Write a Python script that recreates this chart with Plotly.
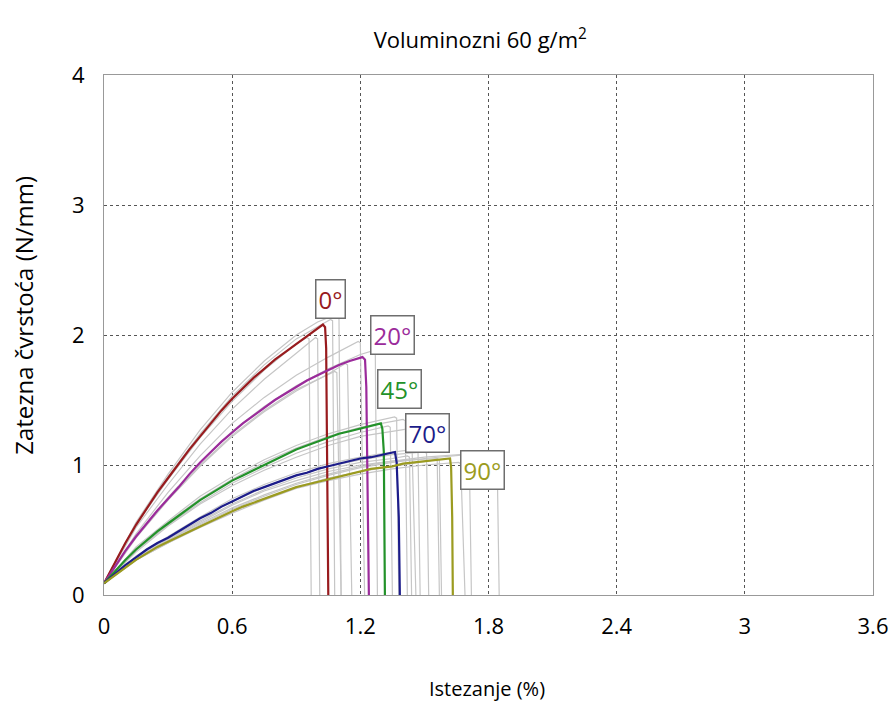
import plotly.graph_objects as go

# mean curves: strain (%) and tensile strength (N/mm)
x_0 = [0, 0.05, 0.1, 0.15, 0.2, 0.25, 0.3, 0.35, 0.4, 0.45, 0.5, 0.55, 0.6, 0.65,
       0.7, 0.75, 0.8, 0.85, 0.9, 0.95, 1.0, 1.025, 1.035, 1.04, 1.05]
y_0 = [0.09, 0.25, 0.40, 0.54, 0.67, 0.79, 0.90, 1.01, 1.12, 1.22, 1.32, 1.42, 1.51, 1.59,
       1.67, 1.74, 1.81, 1.87, 1.93, 1.99, 2.05, 2.08, 2.06, 1.90, 0]

x_20 = [0, 0.05, 0.1, 0.15, 0.2, 0.25, 0.3, 0.35, 0.4, 0.45, 0.5, 0.55, 0.6, 0.65, 0.7,
        0.75, 0.8, 0.85, 0.9, 0.95, 1.0, 1.05, 1.1, 1.15, 1.21, 1.222, 1.228, 1.24]
y_20 = [0.09, 0.22, 0.34, 0.45, 0.55, 0.65, 0.74, 0.83, 0.93, 1.02, 1.10, 1.18, 1.25, 1.32, 1.38,
        1.44, 1.50, 1.55, 1.60, 1.65, 1.69, 1.73, 1.77, 1.80, 1.83, 1.81, 1.60, 0]

x_45 = [0, 0.05, 0.1, 0.15, 0.2, 0.25, 0.3, 0.35, 0.4, 0.45, 0.5, 0.55, 0.6, 0.65, 0.7,
        0.75, 0.8, 0.85, 0.9, 0.95, 1.0, 1.05, 1.1, 1.15, 1.2, 1.25, 1.296, 1.303, 1.31, 1.315]
y_45 = [0.09, 0.18, 0.27, 0.35, 0.42, 0.49, 0.55, 0.61, 0.67, 0.73, 0.78, 0.83, 0.88, 0.92, 0.96,
        1.00, 1.04, 1.08, 1.12, 1.15, 1.18, 1.21, 1.24, 1.26, 1.28, 1.30, 1.32, 1.28, 1.10, 0]

x_70 = [0, 0.05, 0.1, 0.15, 0.2, 0.25, 0.3, 0.35, 0.4, 0.45, 0.5, 0.55, 0.6, 0.65, 0.7,
        0.75, 0.8, 0.85, 0.9, 0.95, 1.0, 1.05, 1.1, 1.15, 1.2, 1.25, 1.3, 1.362, 1.37, 1.38, 1.385]
y_70 = [0.09, 0.16, 0.23, 0.29, 0.35, 0.40, 0.44, 0.49, 0.54, 0.59, 0.63, 0.68, 0.72, 0.76, 0.80,
        0.83, 0.86, 0.89, 0.92, 0.94, 0.97, 0.99, 1.01, 1.03, 1.05, 1.06, 1.08, 1.10, 1.02, 0.60, 0]

x_90 = [0, 0.05, 0.1, 0.15, 0.2, 0.25, 0.3, 0.35, 0.4, 0.45, 0.5, 0.55, 0.6, 0.65, 0.7,
        0.75, 0.8, 0.85, 0.9, 0.95, 1.0, 1.05, 1.1, 1.15, 1.2, 1.25, 1.3, 1.35, 1.4, 1.45,
        1.5, 1.55, 1.62, 1.625, 1.63, 1.633]
y_90 = [0.09, 0.15, 0.21, 0.27, 0.32, 0.37, 0.41, 0.45, 0.49, 0.53, 0.57, 0.61, 0.645, 0.68, 0.71,
        0.74, 0.77, 0.80, 0.83, 0.85, 0.87, 0.89, 0.91, 0.93, 0.95, 0.97, 0.98, 0.99, 1.01, 1.02,
        1.03, 1.04, 1.05, 0.98, 0.60, 0]

# individual specimens (grey)
rep_x_0 = [[0, 0.15, 0.3, 0.45, 0.6, 0.75, 0.9, 1.0, 1.09, 1.10, 1.11],
           [0, 0.15, 0.3, 0.45, 0.6, 0.75, 0.9, 1.0, 1.06, 1.07, 1.08],
           [0, 0.15, 0.3, 0.45, 0.6, 0.75, 0.9, 0.99, 1.00, 1.01],
           [0, 0.15, 0.3, 0.45, 0.6, 0.75, 0.9, 0.95, 0.96, 0.97]]
rep_y_0 = [[0.09, 0.56, 0.93, 1.27, 1.56, 1.80, 2.00, 2.10, 2.16, 2.15, 0],
           [0.09, 0.55, 0.91, 1.24, 1.53, 1.77, 1.97, 2.06, 2.12, 2.11, 0],
           [0.09, 0.52, 0.85, 1.16, 1.43, 1.66, 1.86, 1.98, 1.97, 0],
           [0.09, 0.54, 0.89, 1.21, 1.49, 1.73, 1.93, 1.98, 1.97, 0]]

rep_x_20 = [[0, 0.15, 0.3, 0.45, 0.6, 0.75, 0.9, 1.05, 1.19, 1.20, 1.22],
            [0, 0.15, 0.3, 0.45, 0.6, 0.75, 0.9, 1.05, 1.2, 1.26, 1.27, 1.28],
            [0, 0.15, 0.3, 0.45, 0.6, 0.75, 0.9, 1.05, 1.13, 1.14, 1.16],
            [0, 0.15, 0.3, 0.45, 0.6, 0.75, 0.9, 1.05, 1.08, 1.09, 1.11]]
rep_y_20 = [[0.09, 0.47, 0.79, 1.07, 1.32, 1.52, 1.69, 1.83, 1.95, 1.94, 0],
            [0.09, 0.45, 0.75, 1.02, 1.26, 1.45, 1.61, 1.74, 1.85, 1.88, 1.87, 0],
            [0.09, 0.44, 0.73, 0.99, 1.22, 1.41, 1.57, 1.70, 1.78, 1.77, 0],
            [0.09, 0.45, 0.74, 1.00, 1.23, 1.42, 1.58, 1.70, 1.72, 1.71, 0]]

rep_x_45 = [[0, 0.15, 0.3, 0.45, 0.6, 0.75, 0.9, 1.05, 1.2, 1.36, 1.37, 1.38],
            [0, 0.15, 0.3, 0.45, 0.6, 0.75, 0.9, 1.05, 1.2, 1.40, 1.41, 1.42],
            [0, 0.15, 0.3, 0.45, 0.6, 0.75, 0.9, 1.05, 1.2, 1.33, 1.34, 1.35],
            [0, 0.15, 0.3, 0.45, 0.6, 0.75, 0.9, 1.05, 1.2, 1.43, 1.44, 1.46]]
rep_y_45 = [[0.09, 0.37, 0.57, 0.76, 0.91, 1.04, 1.15, 1.24, 1.31, 1.37, 1.36, 0],
            [0.09, 0.36, 0.56, 0.74, 0.89, 1.02, 1.13, 1.22, 1.29, 1.35, 1.34, 0],
            [0.09, 0.34, 0.54, 0.71, 0.86, 0.98, 1.09, 1.18, 1.25, 1.30, 1.29, 0],
            [0.09, 0.33, 0.53, 0.70, 0.84, 0.96, 1.06, 1.15, 1.22, 1.28, 1.27, 0]]

rep_x_70 = [[0, 0.15, 0.3, 0.45, 0.6, 0.75, 0.9, 1.05, 1.2, 1.35, 1.46, 1.47, 1.48],
            [0, 0.15, 0.3, 0.45, 0.6, 0.75, 0.9, 1.05, 1.2, 1.35, 1.50, 1.51, 1.52],
            [0, 0.15, 0.3, 0.45, 0.6, 0.75, 0.9, 1.05, 1.2, 1.35, 1.42, 1.43, 1.44],
            [0, 0.15, 0.3, 0.45, 0.6, 0.75, 0.9, 1.05, 1.2, 1.35, 1.56, 1.57, 1.58]]
rep_y_70 = [[0.09, 0.30, 0.45, 0.60, 0.74, 0.85, 0.94, 1.01, 1.06, 1.10, 1.12, 1.11, 0],
            [0.09, 0.29, 0.44, 0.59, 0.72, 0.83, 0.92, 0.99, 1.04, 1.08, 1.10, 1.09, 0],
            [0.09, 0.28, 0.43, 0.57, 0.70, 0.81, 0.90, 0.97, 1.02, 1.05, 1.07, 1.06, 0],
            [0.09, 0.28, 0.42, 0.56, 0.69, 0.80, 0.88, 0.95, 1.00, 1.03, 1.05, 1.04, 0]]

rep_x_90 = [[0, 0.15, 0.3, 0.45, 0.6, 0.75, 0.9, 1.05, 1.2, 1.35, 1.5, 1.65, 1.83, 1.84, 1.85],
            [0, 0.15, 0.3, 0.45, 0.6, 0.75, 0.9, 1.05, 1.2, 1.35, 1.5, 1.70, 1.71, 1.72],
            [0, 0.15, 0.3, 0.45, 0.6, 0.75, 0.9, 1.05, 1.2, 1.35, 1.5, 1.55, 1.56, 1.57],
            [0, 0.15, 0.3, 0.45, 0.6, 0.75, 0.9, 1.05, 1.2, 1.35, 1.5, 1.66, 1.67, 1.69]]
rep_y_90 = [[0.09, 0.28, 0.42, 0.55, 0.67, 0.77, 0.86, 0.93, 0.99, 1.03, 1.06, 1.08, 1.10, 1.09, 0],
            [0.09, 0.28, 0.41, 0.54, 0.66, 0.76, 0.85, 0.92, 0.98, 1.02, 1.05, 1.08, 1.07, 0],
            [0.09, 0.27, 0.40, 0.53, 0.64, 0.74, 0.83, 0.90, 0.95, 0.99, 1.03, 1.04, 1.03, 0],
            [0.09, 0.27, 0.40, 0.52, 0.63, 0.73, 0.82, 0.88, 0.93, 0.97, 1.00, 1.02, 1.01, 0]]

labels = ["0°", "20°", "45°", "70°", "90°"]
label_x = [1.06, 1.35, 1.385, 1.516, 1.774]
label_y = [2.28, 2.00, 1.585, 1.25, 0.96]
colors = ["#981b1e", "#9b2b9b", "#23922a", "#1c1c8a", "#9b9b20"]

main_x = [x_0, x_20, x_45, x_70, x_90]
main_y = [y_0, y_20, y_45, y_70, y_90]
reps = [(rep_x_0, rep_y_0), (rep_x_20, rep_y_20), (rep_x_45, rep_y_45),
        (rep_x_70, rep_y_70), (rep_x_90, rep_y_90)]

fig = go.Figure()

for rx, ry in reps:
    for xs, ys in zip(rx, ry):
        fig.add_trace(go.Scatter(x=xs, y=ys, mode="lines",
                                 line=dict(color="#c6c6c6", width=1.2),
                                 hoverinfo="skip"))

for xs, ys, c, name in zip(main_x, main_y, colors, labels):
    fig.add_trace(go.Scatter(x=xs, y=ys, mode="lines", name=name,
                             line=dict(color=c, width=2.2)))

for t, lx, ly, c in zip(labels, label_x, label_y, colors):
    fig.add_annotation(x=lx, y=ly, text=t, showarrow=False,
                       font=dict(size=24, color=c),
                       bgcolor="white", bordercolor="#6e6e6e",
                       borderwidth=1.5, borderpad=2)

# axis titles placed by hand
fig.add_annotation(text="Zatezna čvrstoća (N/mm)", xref="paper", yref="paper",
                   x=-0.104, y=0.537, textangle=-90, showarrow=False,
                   xanchor="center", yanchor="middle", font=dict(size=24))
fig.add_annotation(text="Istezanje (%)", xref="paper", yref="paper",
                   x=0.498, y=-0.18, showarrow=False,
                   xanchor="center", yanchor="middle", font=dict(size=20))

fig.update_layout(
    width=896, height=706,
    paper_bgcolor="white", plot_bgcolor="white",
    font=dict(family="Open Sans, Noto Sans, sans-serif", size=20, color="black"),
    showlegend=False,
    margin=dict(l=104, r=23, t=75, b=111),
    title=dict(text="Voluminozni 60 g/m<sup>2</sup>", x=0.536, xanchor="center",
               y=0.943, yanchor="middle", font=dict(size=22)),
)
fig.update_xaxes(range=[0, 3.6], tickvals=[0, 0.6, 1.2, 1.8, 2.4, 3, 3.6],
                 ticktext=["0", "0.6", "1.2", "1.8", "2.4", "3", "3.6"],
                 showgrid=True, gridcolor="#555", griddash="dot", gridwidth=1,
                 showline=True, linecolor="#999", linewidth=1, mirror=True,
                 zeroline=False, ticks="", tickfont=dict(size=22),
                 ticklabelstandoff=12, automargin=False)
fig.update_yaxes(range=[0, 4], tickvals=[0, 1, 2, 3, 4],
                 showgrid=True, gridcolor="#555", griddash="dot", gridwidth=1,
                 showline=True, linecolor="#999", linewidth=1, mirror=True,
                 zeroline=False, ticks="", tickfont=dict(size=22),
                 ticklabelstandoff=14, automargin=False)

# drop the browser's default 8px body margin so the figure fills the window
fig.write_html("out.html", config={"displayModeBar": False},
               post_script="document.body.style.margin='0';")
